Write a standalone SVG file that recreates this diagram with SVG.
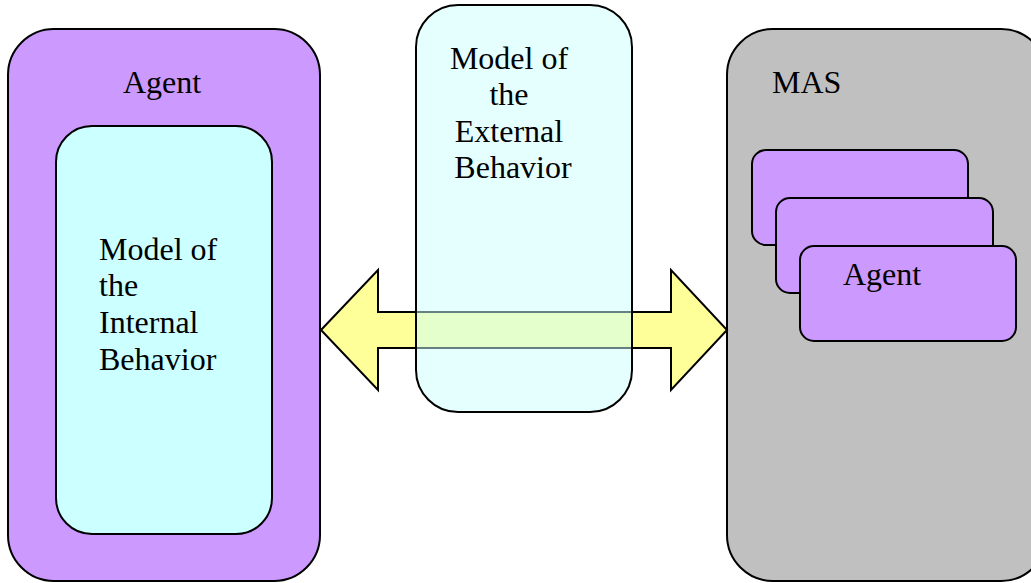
<svg xmlns="http://www.w3.org/2000/svg" width="1031" height="583" viewBox="0 0 1031 583">
  <style>
    .box { stroke: #000; stroke-width: 2; }
    .purple { fill: #cc99ff; }
    .cyan { fill: #ccffff; }
    .gray { fill: #c0c0c0; }
    .label { font-family: 'Liberation Serif', 'DejaVu Serif', serif; font-size: 32px; fill: #000; }
  </style>
  <rect width="1031" height="583" fill="#fff"/>

  <g id="agent">
    <rect class="box purple" x="8" y="29" width="312" height="552" rx="46" ry="46"/>
    <text class="label" x="123" y="93">Agent</text>
  </g>

  <g id="internal-model">
    <rect class="box cyan" x="56" y="126" width="216" height="408" rx="36" ry="36"/>
    <text class="label">
      <tspan x="99" y="260">Model of</tspan>
      <tspan x="99" y="296">the</tspan>
      <tspan x="99" y="333">Internal</tspan>
      <tspan x="99" y="370">Behavior</tspan>
    </text>
  </g>

  <g id="mas">
    <rect class="box gray" x="727" y="29" width="320" height="552" rx="46" ry="46"/>
    <text class="label" x="772" y="93">MAS</text>
  </g>

  <g id="mas-agent-1">
    <rect class="box purple" x="752" y="150" width="216" height="95" rx="14" ry="14"/>
  </g>
  <g id="mas-agent-2">
    <rect class="box purple" x="776" y="198" width="217" height="95" rx="14" ry="14"/>
  </g>
  <g id="mas-agent-3">
    <rect class="box purple" x="800" y="246" width="216" height="95" rx="14" ry="14"/>
    <text class="label" x="843" y="285">Agent</text>
  </g>

  <g id="connectors">
    <polygon points="321,330 378,270 378,312 671,312 671,270 727,330 671,390 671,348 378,348 378,390"
             fill="#ffff99" stroke="#000" stroke-width="2" stroke-linejoin="miter"/>
  </g>

  <g id="external-model">
    <rect x="416" y="5" width="216" height="407" rx="42" ry="42" fill="#ccffff" fill-opacity="0.5" stroke="#000" stroke-width="2"/>
    <text class="label" text-anchor="middle">
      <tspan x="513" y="69">Model of</tspan>
      <tspan x="513" y="105">the</tspan>
      <tspan x="513" y="142">External</tspan>
      <tspan x="513" y="178">Behavior</tspan>
    </text>
  </g>
</svg>
